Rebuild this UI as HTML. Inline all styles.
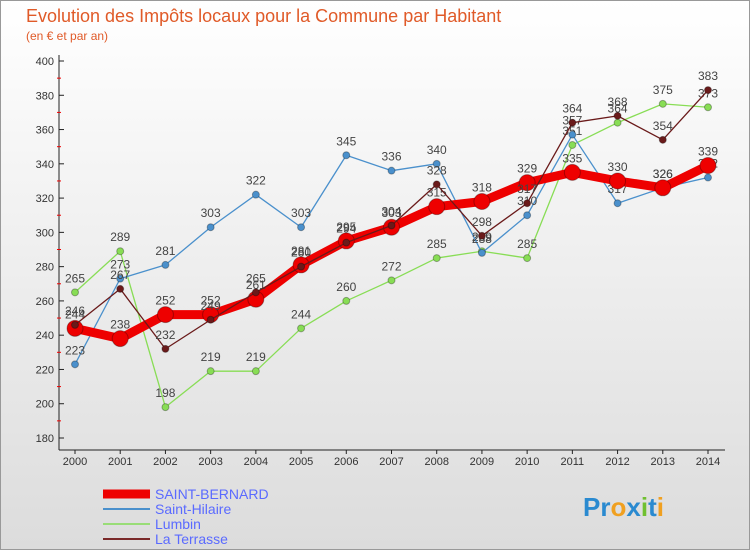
<!DOCTYPE html>
<html><head><meta charset="utf-8"><style>
body{margin:0;font-family:"Liberation Sans",sans-serif}
svg text{font-family:"Liberation Sans",sans-serif}
</style></head><body>
<svg width="750" height="550" xmlns="http://www.w3.org/2000/svg">
<defs><linearGradient id="bg" x1="0" y1="0" x2="0" y2="1"><stop offset="0" stop-color="#ffffff"/><stop offset="1" stop-color="#dcdcdc"/></linearGradient></defs>
<rect x="0.5" y="0.5" width="749" height="549" fill="url(#bg)" stroke="#999"/>
<text x="26" y="22" font-size="18" fill="#e05a28">Evolution des Impôts locaux pour la Commune par Habitant</text>
<text x="26" y="40" font-size="12" fill="#e05a28">(en € et par an)</text>
<g id="axes"></g><g id="series"></g>
<g>
<line x1="103" y1="494" x2="150" y2="494" stroke="#ee0000" stroke-width="9"/>
<text x="155" y="499" font-size="14" fill="#5a6aff">SAINT-BERNARD</text>
<line x1="103" y1="509" x2="150" y2="509" stroke="#4a90cc" stroke-width="2"/>
<text x="155" y="514" font-size="14" fill="#5a6aff">Saint-Hilaire</text>
<line x1="103" y1="524" x2="150" y2="524" stroke="#99dd77" stroke-width="2"/>
<text x="155" y="529" font-size="14" fill="#5a6aff">Lumbin</text>
<line x1="103" y1="539" x2="150" y2="539" stroke="#7a2a2a" stroke-width="2"/>
<text x="155" y="544" font-size="14" fill="#5a6aff">La Terrasse</text>
</g>
<text x="583" y="516" font-size="26" font-weight="bold"><tspan fill="#2a8ad0">Pr</tspan><tspan fill="#f0a020">o</tspan><tspan fill="#2a8ad0">x</tspan><tspan fill="#70c030">i</tspan><tspan fill="#2a8ad0">t</tspan><tspan fill="#f0a020">i</tspan></text>
</svg>
<script>
const years=[2000,2001,2002,2003,2004,2005,2006,2007,2008,2009,2010,2011,2012,2013,2014];
const yTicks=[180,200,220,240,260,280,300,320,340,360,380,400];
const saintBernard=[244,238,252,252,261,281,295,303,315,318,329,335,330,326,339];
const saintHilaire=[223,273,281,303,322,303,345,336,340,288,310,357,317,326,332];
const lumbin=[265,289,198,219,219,244,260,272,285,289,285,351,364,375,373];
const laTerrasse=[246,267,232,249,265,280,294,304,328,298,317,364,368,354,383];
const NS="http://www.w3.org/2000/svg";
const x=i=>75+i*(708-75)/(years.length-1);
const y=v=>438-(v-180)*(438-61)/220;
function mk(t,a,p){const e=document.createElementNS(NS,t);for(const k in a)e.setAttribute(k,a[k]);p.appendChild(e);return e;}
const ax=document.getElementById('axes');
const yl=mk('line',{x1:59,y1:55,x2:59,y2:450,stroke:'#222'},ax);


const xl=mk('line',{x1:59,y1:450,x2:725,y2:450,stroke:'#222'},ax);


yTicks.forEach(t=>{
 mk('line',{x1:59,y1:y(t),x2:64,y2:y(t),stroke:'#222'},ax);
 if(t<400)mk('line',{x1:57,y1:y(t+10),x2:61,y2:y(t+10),stroke:'#e00'},ax);
 const tx=mk('text',{x:54,y:y(t)+4,'font-size':11,'text-anchor':'end',fill:'#333'},ax);tx.textContent=t;
 
 
});
years.forEach((yr,i)=>{
 mk('line',{x1:x(i),y1:450,x2:x(i),y2:454,stroke:'#222'},ax);
 const tx=mk('text',{x:x(i),y:465,'font-size':11,'text-anchor':'middle',fill:'#333'},ax);tx.textContent=yr;
 
 
});
const sg=document.getElementById('series');
function draw(vals,color,w,r,name){
 const g=mk('g',{},sg);
 
 
 mk('polyline',{points:vals.map((v,i)=>x(i)+','+y(v)).join(' '),fill:'none',stroke:color,'stroke-width':w,'stroke-linejoin':'round'},g);
 vals.forEach((v,i)=>{
  const c=mk('circle',{cx:x(i),cy:y(v),r:r,fill:color,stroke:'rgba(0,0,0,0.3)','stroke-width':1},g);
  
  
  const t=mk('text',{x:x(i),y:y(v)-10,'font-size':12,'text-anchor':'middle',fill:'#444'},g);t.textContent=v;
  
  
 });
}
draw(lumbin,'#88dd55',1.3,3.5,'series-lumbin');
draw(saintHilaire,'#4a90cc',1.3,3.5,'series-saint-hilaire');
draw(saintBernard,'#ee0000',9,8,'series-saint-bernard');
draw(laTerrasse,'#6a1a1a',1.3,3.5,'series-la-terrasse');
</script>
</body></html>
